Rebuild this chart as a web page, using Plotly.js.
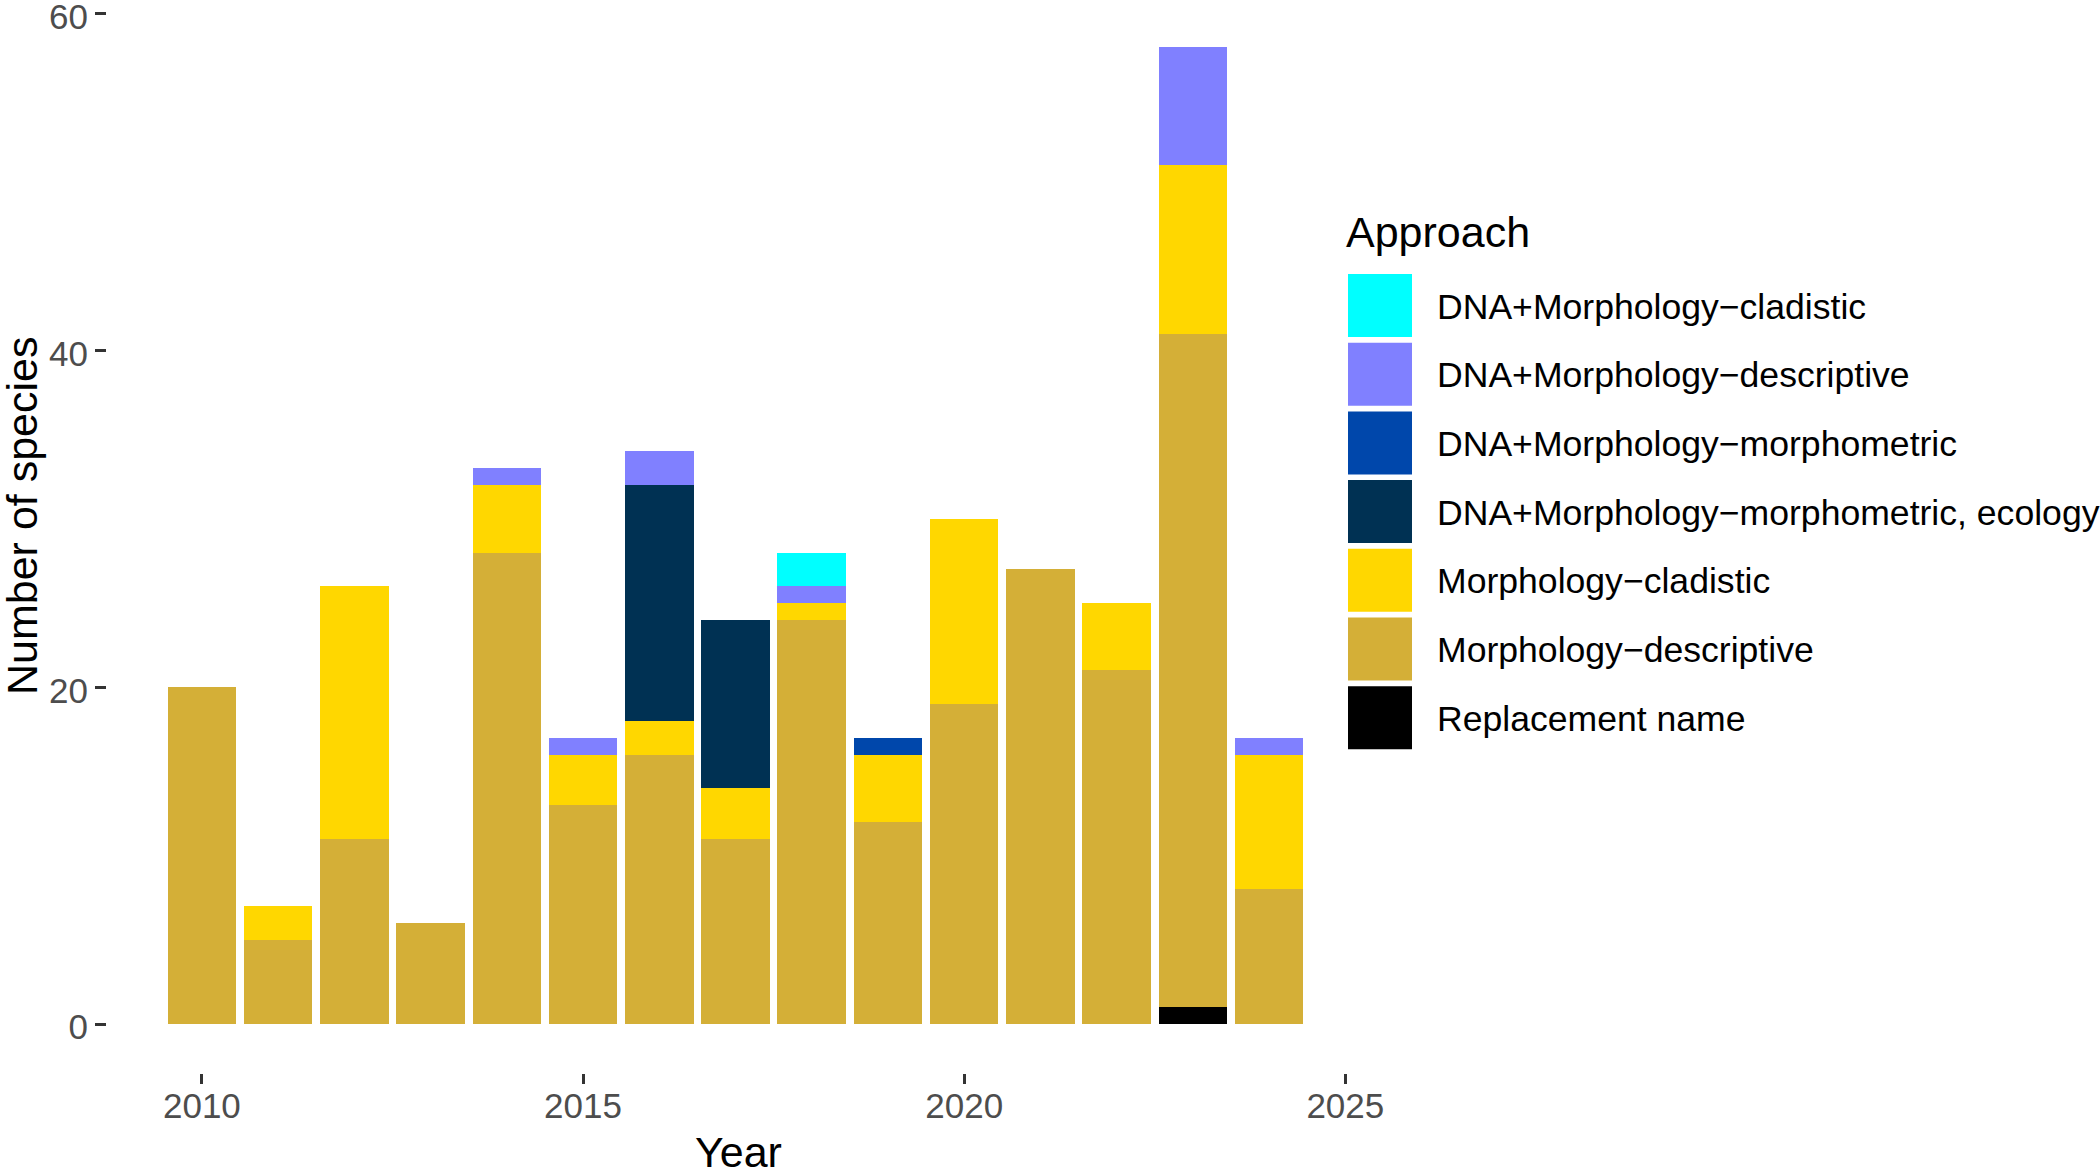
<!DOCTYPE html>
<html>
<head>
<meta charset="utf-8">
<script src="https://cdn.plot.ly/plotly-3.0.1.min.js"></script>
<style>
  body { margin: 0; background: #fff; }
  #chart { width: 2100px; height: 1172px; }
</style>
</head>
<body>
<div id="chart"></div>
<script>
// species per year, split by approach
let years = [2010, 2011, 2012, 2013, 2014, 2015, 2016, 2017, 2018, 2019, 2020, 2021, 2022, 2023, 2024]
let replacementName   = [0, 0, 0, 0, 0, 0, 0, 0, 0, 0, 0, 0, 0, 1, 0]
let morphDescriptive  = [20, 5, 11, 6, 28, 13, 16, 11, 24, 12, 19, 27, 21, 40, 8]
let morphCladistic    = [0, 2, 15, 0, 4, 3, 2, 3, 1, 4, 11, 0, 4, 10, 8]
let dnaMorphometricEco = [0, 0, 0, 0, 0, 0, 14, 10, 0, 0, 0, 0, 0, 0, 0]
let dnaMorphometric   = [0, 0, 0, 0, 0, 0, 0, 0, 0, 1, 0, 0, 0, 0, 0]
let dnaDescriptive    = [0, 0, 0, 0, 1, 1, 2, 0, 1, 0, 0, 0, 0, 7, 1]
let dnaCladistic      = [0, 0, 0, 0, 0, 0, 0, 0, 2, 0, 0, 0, 0, 0, 0]

// legend order (top to bottom), stack order is the reverse
let approaches = [
  "DNA+Morphology\u2212cladistic",
  "DNA+Morphology\u2212descriptive",
  "DNA+Morphology\u2212morphometric",
  "DNA+Morphology\u2212morphometric, ecology",
  "Morphology\u2212cladistic",
  "Morphology\u2212descriptive",
  "Replacement name"
]
let colours = ["#00FFFF", "#8080FF", "#0047AB", "#003153", "#FFD700", "#D4AF37", "#000000"]
let values = [dnaCladistic, dnaDescriptive, dnaMorphometric, dnaMorphometricEco,
              morphCladistic, morphDescriptive, replacementName]

let font = "Liberation Sans, Arial, Helvetica, sans-serif"

// plot area in pixels
let L = 107, R = 1364, T = 0, B = 1073
let W = R - L, H = B - T
function px(x){ return (x - L) / W }
function py(y){ return (B - y) / H }

let data = []
for (let i = approaches.length - 1; i >= 0; i--) {
  data.push({
    type: "bar",
    x: years,
    y: values[i],
    name: approaches[i],
    width: 0.9,
    marker: {color: colours[i], line: {width: 0}},
    showlegend: false,
    hoverinfo: "x+y+name"
  })
}

// axis titles as annotations (axis title standoff is capped by the margins)
let annotations = [
  {
    xref: "paper", yref: "paper",
    x: px(738), y: py(1152),
    xanchor: "center", yanchor: "middle",
    text: "Year", showarrow: false,
    font: {family: font, size: 43, color: "#000"}
  },
  {
    xref: "paper", yref: "paper",
    x: px(22), y: py(516),
    xanchor: "center", yanchor: "middle", textangle: -90,
    text: "Number of species", showarrow: false,
    font: {family: font, size: 43, color: "#000"}
  },
  {
    xref: "paper", yref: "paper",
    x: px(1344), y: py(232),
    xanchor: "left", yanchor: "middle",
    text: "Approach", showarrow: false,
    font: {family: font, size: 43, color: "#000"}
  }
]

// hand-built legend so the keys can be as large as in the original
let shapes = []
let keyTop = 274, pitch = 68.7, keyH = 63
for (let i = 0; i < approaches.length; i++) {
  let top = keyTop + i * pitch
  shapes.push({
    type: "rect", xref: "paper", yref: "paper",
    x0: px(1348), x1: px(1412),
    y0: py(top), y1: py(top + keyH),
    fillcolor: colours[i], line: {width: 0}
  })
  annotations.push({
    xref: "paper", yref: "paper",
    x: px(1435), y: py(top + keyH / 2 + 1),
    xanchor: "left", yanchor: "middle",
    text: approaches[i], showarrow: false,
    font: {family: font, size: 35.6, color: "#000"}
  })
}

let layout = {
  width: 2100,
  height: 1172,
  margin: {l: L, r: 2100 - R, t: T, b: 1172 - B, pad: 0},
  paper_bgcolor: "#fff",
  plot_bgcolor: "#fff",
  barmode: "stack",
  bargap: 0,
  font: {family: font},
  xaxis: {
    range: [2008.755, 2025.245],
    tickvals: [2010, 2015, 2020, 2025],
    ticks: "outside", ticklen: 10, tickwidth: 3, tickcolor: "#333",
    ticklabelstandoff: -8,
    showgrid: false, zeroline: false, showline: false,
    tickfont: {family: font, size: 35, color: "#4D4D4D"}
  },
  yaxis: {
    range: [-2.9, 60.8],
    tickvals: [0, 20, 40, 60],
    ticks: "outside", ticklen: 11, tickwidth: 3, tickcolor: "#333",
    ticklabeloverflow: "allow",
    ticklabelshift: 3,
    showgrid: false, zeroline: false, showline: false,
    tickfont: {family: font, size: 35, color: "#4D4D4D"}
  },
  shapes: shapes,
  annotations: annotations
}

Plotly.newPlot("chart", data, layout, {displayModeBar: false, staticPlot: true})
</script>
</body>
</html>
